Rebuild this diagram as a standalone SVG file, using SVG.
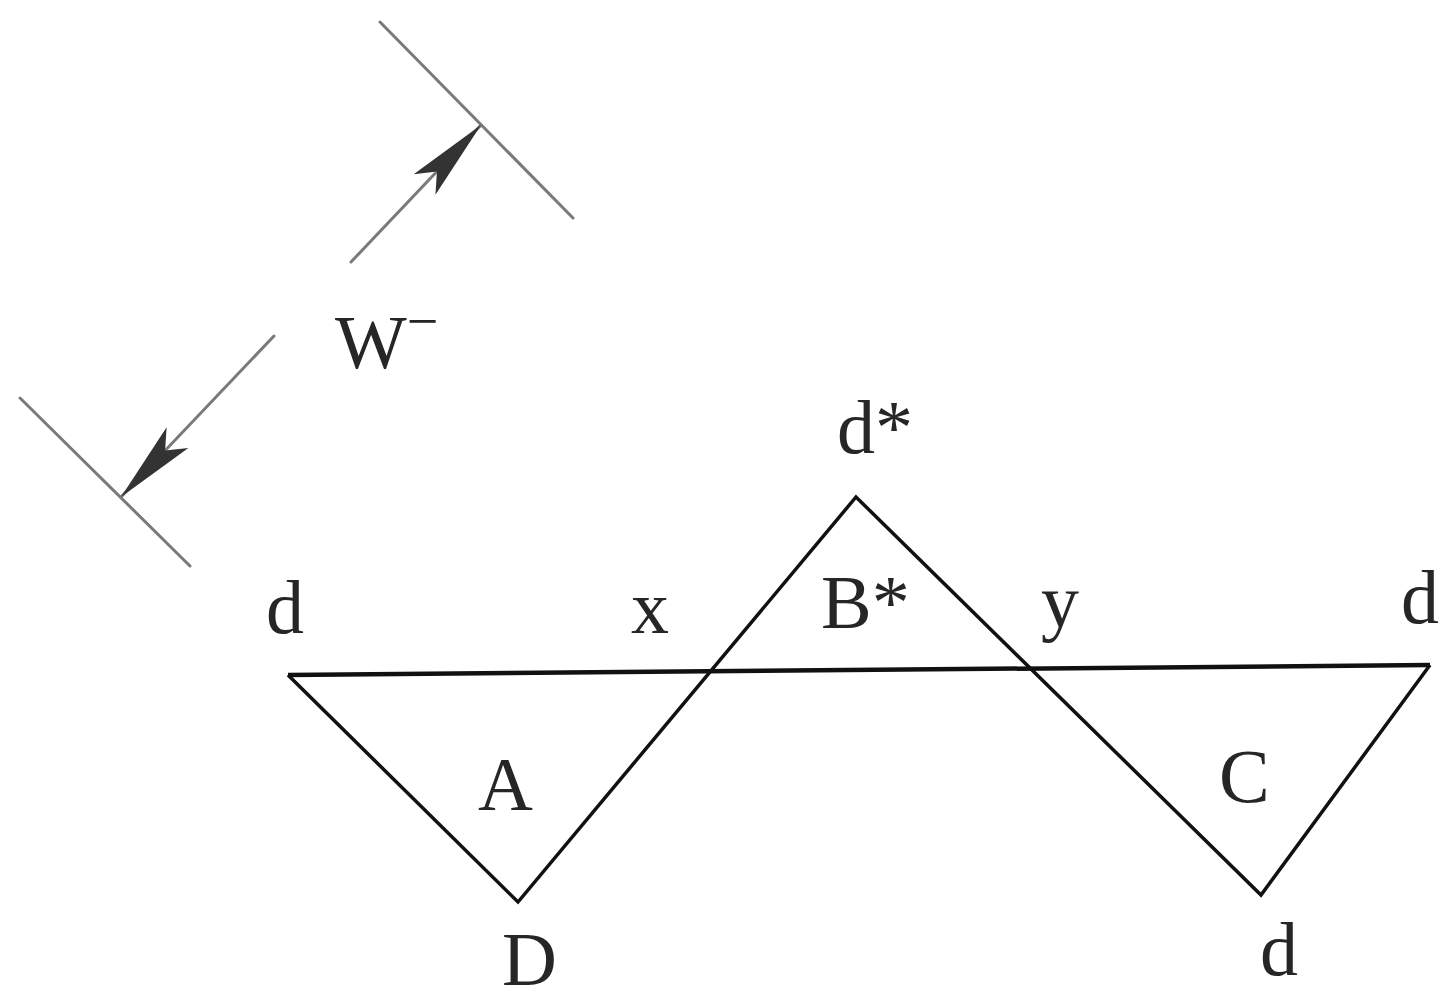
<svg xmlns="http://www.w3.org/2000/svg" width="1456" height="1000" viewBox="0 0 1456 1000">
  <style>
    .lbl { font-family: 'Liberation Serif', 'DejaVu Serif', 'Times New Roman', serif; font-size: 76px; fill: #262626; }
    .dim { stroke: #7a7a7a; stroke-width: 3; fill: none; stroke-linecap: round; }
    .fig { stroke: #111; stroke-width: 3.5; fill: none; stroke-linejoin: miter; }
    .base { stroke: #111; stroke-width: 4.5; fill: none; }
  </style>
  <defs>
    <marker id="head" markerUnits="userSpaceOnUse" viewBox="-85 -20 90 40" refX="0" refY="0" markerWidth="90" markerHeight="40" orient="auto">
      <path d="M0,0 L-82,-15 L-64,0 L-82,15 Z" fill="#333"/>
    </marker>
  </defs>
  <rect width="1456" height="1000" fill="#fff"/>

  <g id="dimension-W">
    <line class="dim" x1="380" y1="22" x2="573" y2="218"/>
    <line class="dim" x1="20" y1="398" x2="190" y2="566"/>
  </g>

  <g id="connectors">
    <line class="dim" x1="351" y1="262" x2="481" y2="125" marker-end="url(#head)"/>
    <line class="dim" x1="274" y1="336" x2="121" y2="497" marker-end="url(#head)"/>
  </g>

  <g id="figure">
    <line class="base" x1="288" y1="675" x2="1430" y2="665"/>
    <polyline class="fig" points="288,675 518,902 856,497 1261,895 1430,665"/>
  </g>

  <g id="labels" font-family="'Liberation Serif', 'DejaVu Serif', serif">
    <text class="lbl" x="335" y="368">W<tspan font-size="56" dy="-28">−</tspan></text>
    <text class="lbl" x="837" y="453">d*</text>
    <text class="lbl" x="266" y="633">d</text>
    <text class="lbl" x="631" y="633">x</text>
    <text class="lbl" x="821" y="628">B*</text>
    <text class="lbl" x="1041" y="627">y</text>
    <text class="lbl" x="1401" y="623">d</text>
    <text class="lbl" x="478" y="810">A</text>
    <text class="lbl" x="1219" y="802">C</text>
    <text class="lbl" x="502" y="985">D</text>
    <text class="lbl" x="1260" y="975">d</text>
  </g>
</svg>
